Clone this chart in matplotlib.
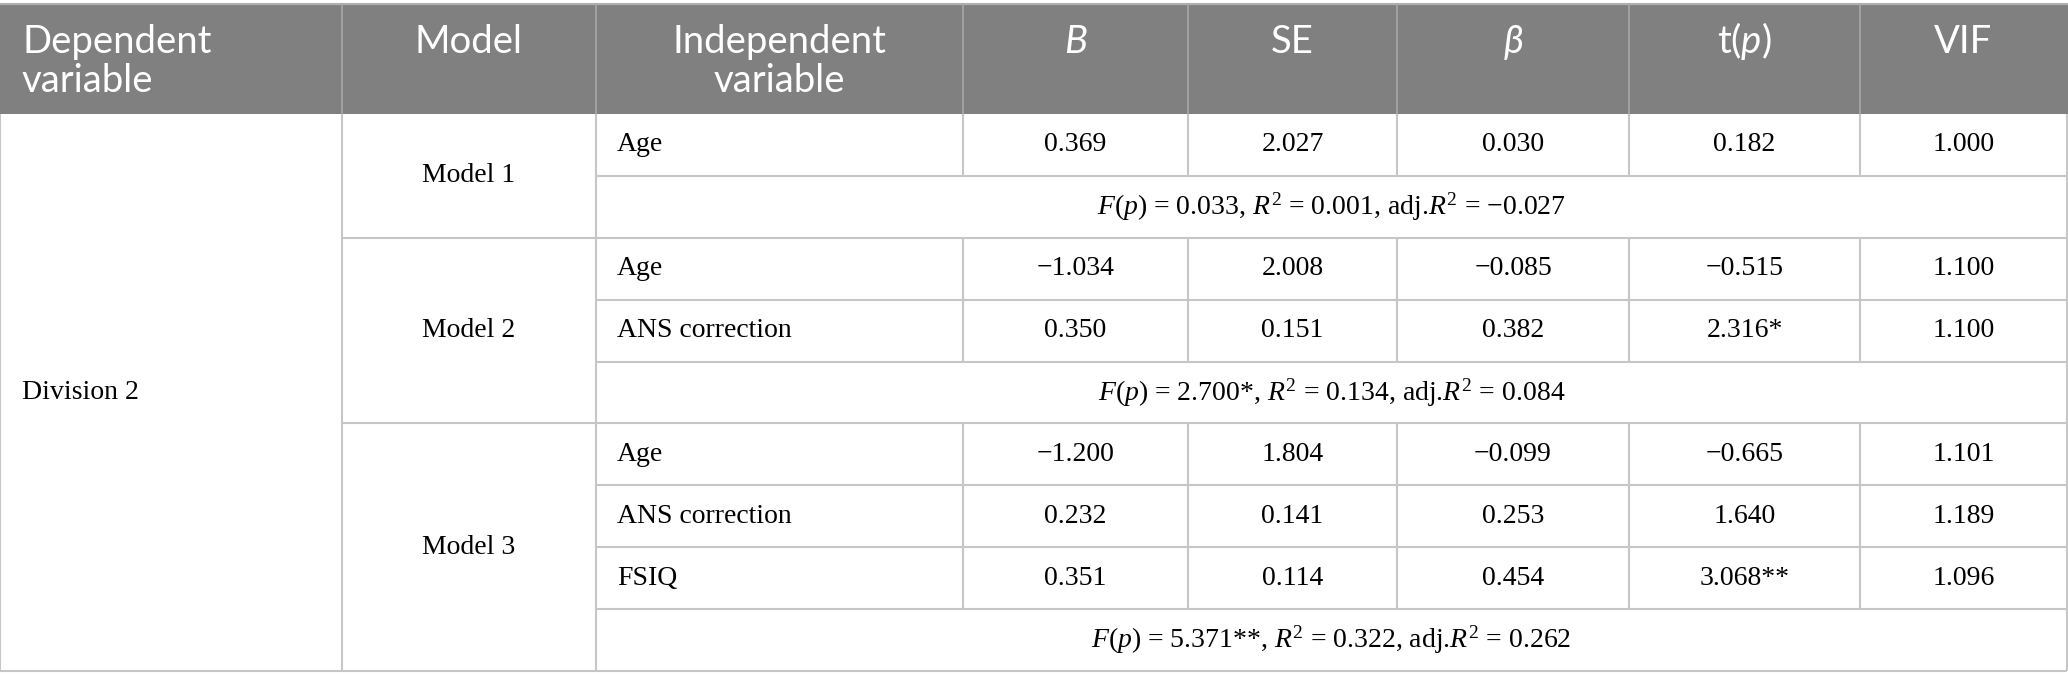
import matplotlib
matplotlib.use("Agg")
import matplotlib.pyplot as plt

plt.rcParams['mathtext.fontset'] = 'custom'
plt.rcParams['mathtext.rm'] = 'Liberation Serif'
plt.rcParams['mathtext.it'] = 'Liberation Serif:italic'
plt.rcParams['mathtext.sf'] = 'Lato:italic'

# table content
headers = [["Dependent", "variable"], ["Model"], ["Independent", "variable"],
           ["$\\mathsf{B}$"], ["SE"], ["$\\mathsf{\\beta}$"], ["t($\\mathsf{p}$)"], ["VIF"]]
dependent = "Division 2"
models = ["Model 1", "Model 2", "Model 3"]
variables = [["Age"], ["Age", "ANS correction"], ["Age", "ANS correction", "FSIQ"]]
b_vals = [["0.369"], ["\u22121.034", "0.350"], ["\u22121.200", "0.232", "0.351"]]
se_vals = [["2.027"], ["2.008", "0.151"], ["1.804", "0.141", "0.114"]]
beta_vals = [["0.030"], ["\u22120.085", "0.382"], ["\u22120.099", "0.253", "0.454"]]
t_vals = [["0.182"], ["\u22120.515", "2.316*"], ["\u22120.665", "1.640", "3.068**"]]
vif_vals = [["1.000"], ["1.100", "1.100"], ["1.101", "1.189", "1.096"]]
fit_rows = [
    "$\\mathit{F(p)}$ = $\\mathit{0.033}$, $\\mathit{R}^{2}$ = 0.001, adj.$\\mathit{R}^{2}$ = \u22120.027",
    "$\\mathit{F(p)}$ = 2.700*, $\\mathit{R}^{2}$ = 0.134, adj.$\\mathit{R}^{2}$ = 0.084",
    "$\\mathit{F(p)}$ = 5.371**, $\\mathit{R}^{2}$ = 0.322, adj.$\\mathit{R}^{2}$ = 0.262",
]

# layout in pixels
W, H = 2068, 690
col_x = [0, 342, 596, 963, 1188, 1397, 1629, 1860, 2067]
top, head_bot, bottom = 4, 114, 671
n_rows = 9
row_h = (bottom - head_bot) / n_rows
header_bg = "#808080"
line_col = "#c6c6c6"
body_font = "Liberation Serif"
head_font = ["Lato", "DejaVu Sans"]
head_size = 27.5
body_size = 20
head_base = [53, 92]

fig = plt.figure(figsize=(W / 100, H / 100), dpi=100)
ax = fig.add_axes([0, 0, 1, 1])
ax.set_xlim(0, W)
ax.set_ylim(H, 0)
ax.axis("off")

# header
ax.add_patch(plt.Rectangle((0, top), W, head_bot - top, color=header_bg, lw=0))
ax.plot([0, W], [top, top], color="#b0b0b0", lw=1.5)
for x in col_x[1:-1]:
    ax.plot([x, x], [top, head_bot], color="#a8a8a8", lw=1.2)
for i, lines in enumerate(headers):
    for k, h in enumerate(lines):
        if i == 0:
            ax.text(col_x[0] + 22, head_base[k], h, color="white", fontsize=head_size,
                    family=head_font, ha="left", va="baseline")
        else:
            cx = (col_x[i] + col_x[i + 1]) / 2
            ax.text(cx, head_base[k], h, color="white", fontsize=head_size,
                    family=head_font, ha="center", va="baseline")

# body
def hline(x0, x1, y):
    ax.plot([x0, x1], [y, y], color=line_col, lw=1.5, solid_capstyle="butt")

def vline(x, y0, y1):
    ax.plot([x, x], [y0, y1], color=line_col, lw=1.5, solid_capstyle="butt")

vline(col_x[0], head_bot, bottom)
vline(col_x[-1], head_bot, bottom)
vline(col_x[1], head_bot, bottom)
vline(col_x[2], head_bot, bottom)
hline(col_x[0], col_x[-1], bottom)

ax.text(col_x[0] + 22, (head_bot + bottom) / 2, dependent, family=body_font,
        fontsize=body_size, ha="left", va="center")

r = 0
for m, name in enumerate(models):
    n = len(variables[m])
    y0 = head_bot + r * row_h
    y1 = y0 + (n + 1) * row_h
    ax.text((col_x[1] + col_x[2]) / 2, (y0 + y1) / 2, name, family=body_font,
            fontsize=body_size, ha="center", va="center")
    for k in range(n):
        ya = head_bot + (r + k) * row_h
        yc = ya + row_h / 2
        for x in col_x[3:-1]:
            vline(x, ya, ya + row_h)
        hline(col_x[2], col_x[-1], ya + row_h)
        ax.text(col_x[2] + 21, yc, variables[m][k], family=body_font,
                fontsize=body_size, ha="left", va="center")
        vals = [b_vals[m][k], se_vals[m][k], beta_vals[m][k], t_vals[m][k], vif_vals[m][k]]
        for j, v in enumerate(vals):
            cx = (col_x[3 + j] + col_x[4 + j]) / 2
            ax.text(cx, yc, v, family=body_font, fontsize=body_size, ha="center", va="center")
    yf = head_bot + (r + n) * row_h + row_h / 2
    ax.text((col_x[2] + col_x[-1]) / 2, yf, fit_rows[m], family=body_font,
            fontsize=body_size, ha="center", va="center")
    if m < len(models) - 1:
        hline(col_x[1], col_x[-1], y1)
    r += n + 1

fig.savefig("out.png", dpi=100, facecolor="white")
